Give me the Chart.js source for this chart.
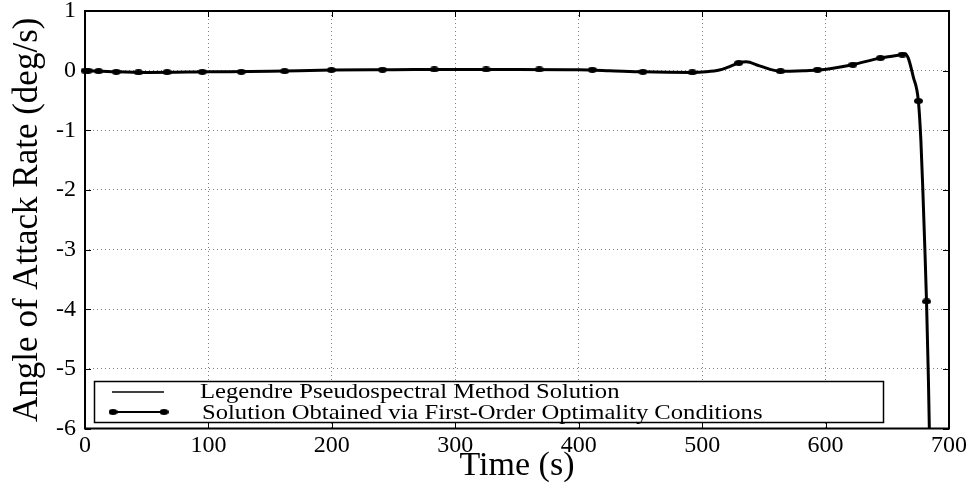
<!DOCTYPE html>
<html>
<head>
<meta charset="utf-8">
<script src="https://cdn.jsdelivr.net/npm/chart.js@4.4.0/dist/chart.umd.min.js"></script>
<style>
html,body{margin:0;padding:0;background:#fff;}
#wrap{width:976px;height:487px;}
</style>
</head>
<body>
<div id="wrap"><canvas id="c" width="976" height="487"></canvas></div>
<script>
// ---- Data ----
const xTicks = [0, 100, 200, 300, 400, 500, 600, 700];
const yTicks = [1, 0, -1, -2, -3, -4, -5, -6];

const seriesNames = [
  "Legendre Pseudospectral Method Solution",
  "Solution Obtained via First-Order Optimality Conditions"
];

// Legendre pseudospectral solution (continuous curve)
const lineTime = [0, 25, 50, 100, 150, 200, 250, 300, 350, 400, 425, 452, 492, 503, 514, 520, 530, 535.7, 546.5, 563.5, 584, 595, 622, 644, 662.2, 664.5, 667, 671, 675.2, 677.2, 678.8, 680.4, 681.8, 683.2, 684.2, 684.7];
const lineRate = [0, -0.02, -0.03, -0.02, -0.01, 0.01, 0.015, 0.02, 0.02, 0.015, 0.0, -0.02, -0.03, -0.02, 0.01, 0.05, 0.13, 0.15, 0.08, -0.01, 0.0, 0.01, 0.1, 0.21, 0.27, 0.28, 0.21, -0.1, -0.51, -1.16, -2.0, -2.96, -3.88, -5.07, -6.14, -7.0];

// First-order optimality conditions solution (markers)
const markTime = [0, 2.5, 11, 25.3, 43.3, 66.5, 95, 126.6, 161.7, 199.6, 241, 283, 325, 368, 411, 452, 492, 529.7, 563.5, 593.5, 622.2, 644.4, 662.2, 675.2, 681.8];
const markRate = [0, 0, -0.01, -0.02, -0.03, -0.025, -0.02, -0.02, -0.01, 0.01, 0.015, 0.02, 0.02, 0.02, 0.015, -0.02, -0.03, 0.13, -0.01, 0.015, 0.1, 0.21, 0.27, -0.51, -3.87];

const xTitle = "Time (s)";
const yTitle = "Angle of Attack Rate (deg/s)";

// ---- Styling ----
const SERIF = '"Liberation Serif", "Times New Roman", serif';

function ellipseMarker(w, h) {
  const c = document.createElement('canvas');
  c.width = w; c.height = h;
  const g = c.getContext('2d');
  g.fillStyle = '#000';
  g.beginPath();
  g.ellipse(w / 2, h / 2, w / 2, h / 2, 0, 0, Math.PI * 2);
  g.fill();
  return c;
}
const marker = ellipseMarker(9, 6);

const framePlugin = {
  id: 'frame',
  afterDatasetsDraw(chart) {
    const ctx = chart.ctx;
    const a = chart.chartArea;
    const xs = chart.scales.x, ys = chart.scales.y;
    ctx.save();
    ctx.strokeStyle = '#000';
    ctx.lineWidth = 1;
    const tl = 6;
    ctx.beginPath();
    xTicks.forEach(v => {
      const px = Math.round(xs.getPixelForValue(v)) + 0.5;
      ctx.moveTo(px, a.bottom); ctx.lineTo(px, a.bottom - tl);
      ctx.moveTo(px, a.top); ctx.lineTo(px, a.top + tl);
    });
    yTicks.forEach(v => {
      const py = Math.round(ys.getPixelForValue(v)) + 0.5;
      ctx.moveTo(a.left, py); ctx.lineTo(a.left + tl, py);
      ctx.moveTo(a.right, py); ctx.lineTo(a.right - tl, py);
    });
    ctx.stroke();
    ctx.lineWidth = 2;
    ctx.strokeRect(a.left, a.top, a.right - a.left, a.bottom - a.top);
    ctx.restore();
  },
  afterDraw(chart) {
    const ctx = chart.ctx;
    ctx.save();
    // legend box
    const bx = 94.5, by = 381.5, bw = 789, bh = 41;
    ctx.fillStyle = '#fff';
    ctx.fillRect(bx, by, bw, bh);
    ctx.strokeStyle = '#000';
    ctx.lineWidth = 1.5;
    ctx.strokeRect(bx, by, bw, bh);
    // row 1 sample: plain line
    ctx.lineWidth = 1.5;
    ctx.beginPath(); ctx.moveTo(112, 392); ctx.lineTo(164, 392); ctx.stroke();
    // row 2 sample: line with markers
    ctx.lineWidth = 2;
    ctx.beginPath(); ctx.moveTo(113, 412); ctx.lineTo(164, 412); ctx.stroke();
    ctx.drawImage(marker, 113 - 4.5, 412 - 3);
    ctx.drawImage(marker, 164 - 4.5, 412 - 3);
    ctx.fillStyle = '#000';
    ctx.font = '22px ' + SERIF;
    ctx.textBaseline = 'alphabetic';
    ctx.textAlign = 'left';
    const sx = 1.12;
    ctx.save();
    ctx.translate(200, 398); ctx.scale(sx, 1);
    ctx.fillText(seriesNames[0], 0, 0);
    ctx.restore();
    ctx.save();
    ctx.translate(202, 419); ctx.scale(sx, 1);
    ctx.fillText(seriesNames[1], 0, 0);
    ctx.restore();
    ctx.restore();
  }
};

new Chart(document.getElementById('c'), {
  type: 'line',
  data: {
    datasets: [
      {
        label: seriesNames[0],
        data: lineTime.map((t, i) => ({ x: t, y: lineRate[i] })),
        borderColor: '#000',
        borderWidth: 3,
        pointRadius: 0,
        cubicInterpolationMode: 'monotone',
        fill: false
      },
      {
        label: seriesNames[1],
        data: markTime.map((t, i) => ({ x: t, y: markRate[i] })),
        showLine: false,
        pointStyle: marker,
        pointRadius: 5,
        borderColor: '#000',
        backgroundColor: '#000',
        clip: false
      }
    ]
  },
  options: {
    responsive: false,
    devicePixelRatio: 1,
    animation: false,
    events: [],
    layout: { padding: { left: 0, right: 27, top: 11, bottom: 0 } },
    plugins: { legend: { display: false }, tooltip: { enabled: false } },
    scales: {
      x: {
        type: 'linear',
        min: 0, max: 700,
        afterBuildTicks: s => { s.ticks = xTicks.map(v => ({ value: v })); },
        afterFit: s => { s.height = 58.5; s.paddingLeft = 0; s.paddingRight = 0; },
        ticks: { color: '#000', font: { family: SERIF, size: 24 }, padding: 3, maxRotation: 0, autoSkip: false },
        grid: { color: 'rgba(0,0,0,0.5)', lineWidth: 1, drawTicks: false },
        border: { display: false, dash: [1, 3] },
        title: { display: true, text: xTitle, color: '#000', font: { family: SERIF, size: 34 }, padding: { top: 0, bottom: 1 } }
      },
      y: {
        type: 'linear',
        min: -6, max: 1,
        afterBuildTicks: s => { s.ticks = yTicks.map(v => ({ value: v })); },
        afterFit: s => { s.width = 85; s.paddingTop = 0; s.paddingBottom = 0; },
        ticks: { color: '#000', font: { family: SERIF, size: 24 }, padding: 9, autoSkip: false },
        grid: { color: 'rgba(0,0,0,0.5)', lineWidth: 1, drawTicks: false },
        border: { display: false, dash: [1, 3] },
        title: { display: true, text: yTitle, color: '#000', font: { family: SERIF, size: 35 }, padding: { top: 7, bottom: 0 } }
      }
    }
  },
  plugins: [framePlugin]
});
</script>
</body>
</html>
